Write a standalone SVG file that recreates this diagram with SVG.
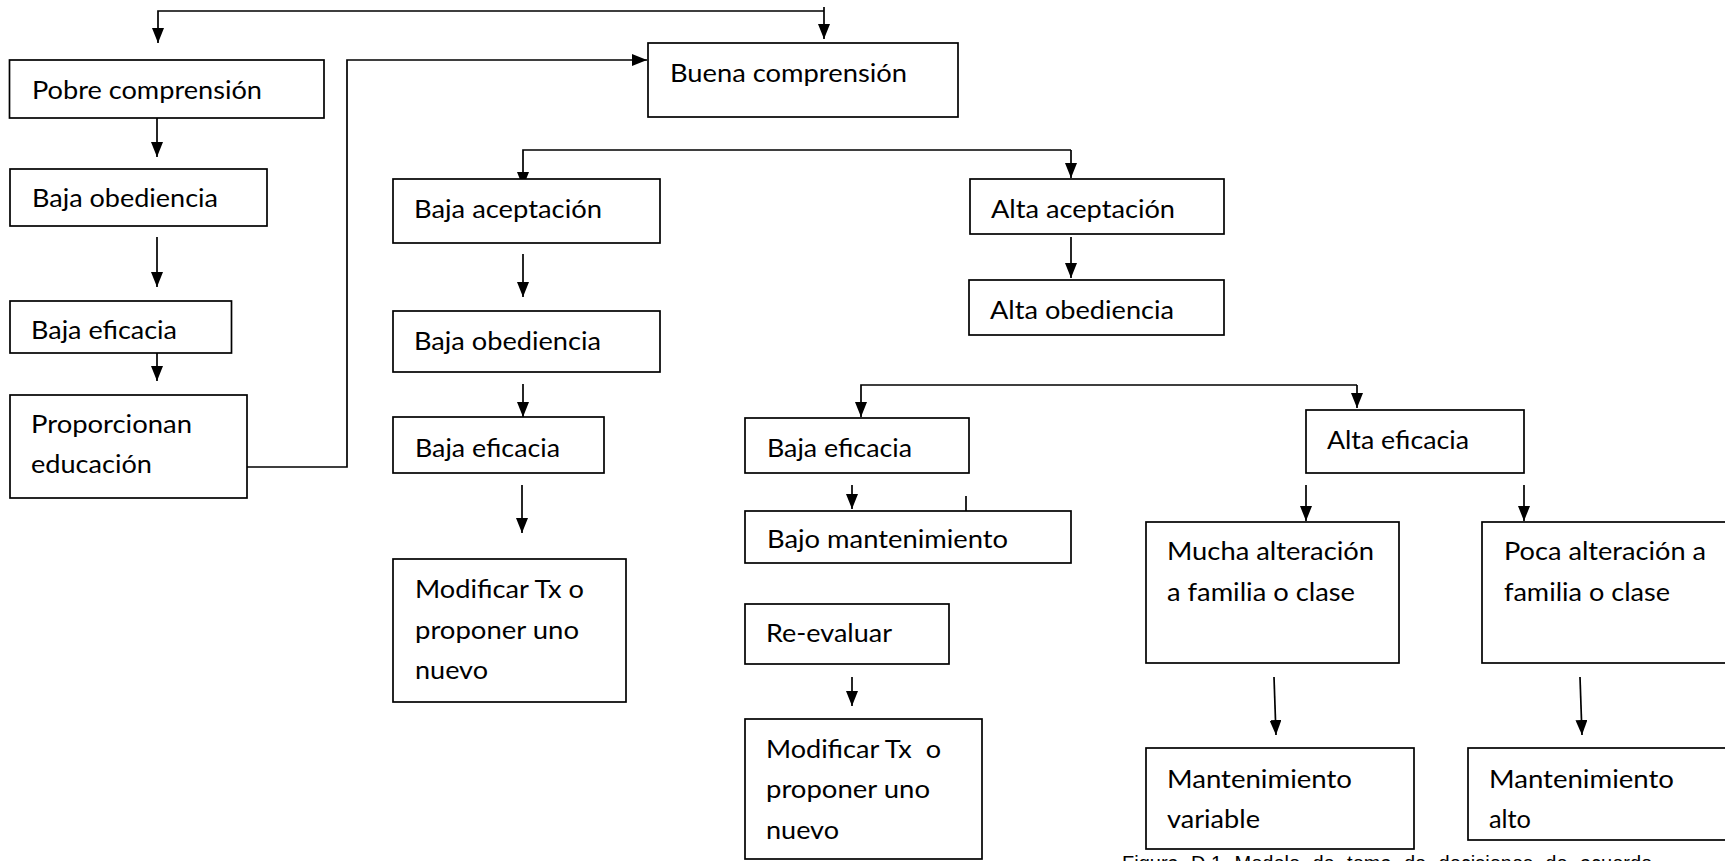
<svg xmlns="http://www.w3.org/2000/svg" width="1725" height="861" viewBox="0 0 1725 861">
<style>
.box{fill:#fff;stroke:#000;stroke-width:1.7}
.t{font-family:Lato,"Open Sans","Liberation Sans",sans-serif;font-size:25px;fill:#000}
.c{fill:none;stroke:#000;stroke-width:1.7}
.cap{font-family:"Liberation Sans",Arial,sans-serif;font-size:20px;fill:#000;word-spacing:6.8px}
</style>
<defs>
<marker id="ah" markerUnits="userSpaceOnUse" markerWidth="15" markerHeight="12" refX="15" refY="6" orient="auto">
<path d="M0,0 L15,6 L0,12 z" fill="#000"/>
</marker>
</defs>
<rect x="0" y="0" width="1725" height="861" fill="#fff"/>

<g id="connectors">
<path class="c" d="M824,11 H158 V43" marker-end="url(#ah)"/>
<path class="c" d="M824,7 V39" marker-end="url(#ah)"/>
<path class="c" d="M157,118 V157" marker-end="url(#ah)"/>
<path class="c" d="M157,237 V287" marker-end="url(#ah)"/>
<path class="c" d="M157,353 V381" marker-end="url(#ah)"/>
<path class="c" d="M247,467 H347 V60 H647" marker-end="url(#ah)"/>
<path class="c" d="M1071,150 H523 V187" marker-end="url(#ah)"/>
<path class="c" d="M1071,150 V178" marker-end="url(#ah)"/>
<path class="c" d="M523,254 V297" marker-end="url(#ah)"/>
<path class="c" d="M523,384 V417" marker-end="url(#ah)"/>
<path class="c" d="M522,485 V533" marker-end="url(#ah)"/>
<path class="c" d="M1071,237 V278" marker-end="url(#ah)"/>
<path class="c" d="M1357,385 H861 V417" marker-end="url(#ah)"/>
<path class="c" d="M1357,385 V408" marker-end="url(#ah)"/>
<path class="c" d="M852,485 V509" marker-end="url(#ah)"/>
<path class="c" d="M966,496 V511"/>
<path class="c" d="M852,677 V706" marker-end="url(#ah)"/>
<path class="c" d="M1306,485 V521" marker-end="url(#ah)"/>
<path class="c" d="M1524,485 V521" marker-end="url(#ah)"/>
<path class="c" d="M1274,677 L1276,735" marker-end="url(#ah)"/>
<path class="c" d="M1580,677 L1582,735" marker-end="url(#ah)"/>
</g>

<g id="pobre-comprension">
<rect class="box" x="9.5" y="60" width="314.5" height="58"/>
<text class="t" x="32" y="99" textLength="230" lengthAdjust="spacingAndGlyphs">Pobre comprensión</text>
</g>
<g id="baja-obediencia-1">
<rect class="box" x="10" y="169" width="257" height="57"/>
<text class="t" x="32" y="207" textLength="186" lengthAdjust="spacingAndGlyphs">Baja obediencia</text>
</g>
<g id="baja-eficacia-1">
<rect class="box" x="10" y="301" width="221.5" height="52"/>
<text class="t" x="31" y="339" textLength="146" lengthAdjust="spacingAndGlyphs">Baja eficacia</text>
</g>
<g id="proporcionan-educacion">
<rect class="box" x="10" y="395" width="237" height="103"/>
<text class="t" x="31" y="433" textLength="161" lengthAdjust="spacingAndGlyphs">Proporcionan</text>
<text class="t" x="31" y="473" textLength="121" lengthAdjust="spacingAndGlyphs">educación</text>
</g>
<g id="buena-comprension">
<rect class="box" x="648" y="43" width="310" height="74"/>
<text class="t" x="670" y="82" textLength="237" lengthAdjust="spacingAndGlyphs">Buena comprensión</text>
</g>
<g id="baja-aceptacion">
<rect class="box" x="393" y="179" width="267" height="64"/>
<text class="t" x="414" y="218" textLength="188" lengthAdjust="spacingAndGlyphs">Baja aceptación</text>
</g>
<g id="baja-obediencia-2">
<rect class="box" x="393" y="311" width="267" height="61"/>
<text class="t" x="414" y="350" textLength="187" lengthAdjust="spacingAndGlyphs">Baja obediencia</text>
</g>
<g id="baja-eficacia-2">
<rect class="box" x="393" y="417" width="211" height="56"/>
<text class="t" x="415" y="457" textLength="145" lengthAdjust="spacingAndGlyphs">Baja eficacia</text>
</g>
<g id="modificar-tx-1">
<rect class="box" x="393" y="559" width="233" height="143"/>
<text class="t" x="415" y="598" textLength="169" lengthAdjust="spacingAndGlyphs">Modificar Tx o</text>
<text class="t" x="415" y="639" textLength="164" lengthAdjust="spacingAndGlyphs">proponer uno</text>
<text class="t" x="415" y="679" textLength="73" lengthAdjust="spacingAndGlyphs">nuevo</text>
</g>
<g id="alta-aceptacion">
<rect class="box" x="970" y="179" width="254" height="55"/>
<text class="t" x="991" y="218" textLength="184" lengthAdjust="spacingAndGlyphs">Alta aceptación</text>
</g>
<g id="alta-obediencia">
<rect class="box" x="969" y="280" width="255" height="55"/>
<text class="t" x="990" y="319" textLength="184" lengthAdjust="spacingAndGlyphs">Alta obediencia</text>
</g>
<g id="baja-eficacia-3">
<rect class="box" x="745" y="418" width="224" height="55"/>
<text class="t" x="767" y="457" textLength="145" lengthAdjust="spacingAndGlyphs">Baja eficacia</text>
</g>
<g id="bajo-mantenimiento">
<rect class="box" x="745" y="511" width="326" height="52"/>
<text class="t" x="767" y="548" textLength="241" lengthAdjust="spacingAndGlyphs">Bajo mantenimiento</text>
</g>
<g id="re-evaluar">
<rect class="box" x="745" y="604" width="204" height="60"/>
<text class="t" x="766" y="642" textLength="126" lengthAdjust="spacingAndGlyphs">Re-evaluar</text>
</g>
<g id="modificar-tx-2">
<rect class="box" x="745" y="719" width="237" height="140"/>
<text class="t" x="766" y="758" textLength="175" lengthAdjust="spacingAndGlyphs" xml:space="preserve">Modificar Tx  o</text>
<text class="t" x="766" y="798" textLength="164" lengthAdjust="spacingAndGlyphs">proponer uno</text>
<text class="t" x="766" y="839" textLength="73" lengthAdjust="spacingAndGlyphs">nuevo</text>
</g>
<g id="alta-eficacia">
<rect class="box" x="1306" y="410" width="218" height="63"/>
<text class="t" x="1327" y="449" textLength="142" lengthAdjust="spacingAndGlyphs">Alta eficacia</text>
</g>
<g id="mucha-alteracion">
<rect class="box" x="1146" y="522" width="253" height="141"/>
<text class="t" x="1167" y="560" textLength="207" lengthAdjust="spacingAndGlyphs">Mucha alteración</text>
<text class="t" x="1167" y="601" textLength="188" lengthAdjust="spacingAndGlyphs">a familia o clase</text>
</g>
<g id="poca-alteracion">
<rect class="box" x="1482" y="522" width="260" height="141"/>
<text class="t" x="1504" y="560" textLength="202" lengthAdjust="spacingAndGlyphs">Poca alteración a</text>
<text class="t" x="1504" y="601" textLength="166" lengthAdjust="spacingAndGlyphs">familia o clase</text>
</g>
<g id="mantenimiento-variable">
<rect class="box" x="1146" y="748" width="268" height="101"/>
<text class="t" x="1167" y="788" textLength="185" lengthAdjust="spacingAndGlyphs">Mantenimiento</text>
<text class="t" x="1167" y="828" textLength="93" lengthAdjust="spacingAndGlyphs">variable</text>
</g>
<g id="mantenimiento-alto">
<rect class="box" x="1468" y="748" width="274" height="92"/>
<text class="t" x="1489" y="788" textLength="185" lengthAdjust="spacingAndGlyphs">Mantenimiento</text>
<text class="t" x="1489" y="828" textLength="42" lengthAdjust="spacingAndGlyphs">alto</text>
</g>

<text class="cap" x="1122" y="870">Figura D.1 Modelo de toma de decisiones de acuerdo</text>
</svg>
